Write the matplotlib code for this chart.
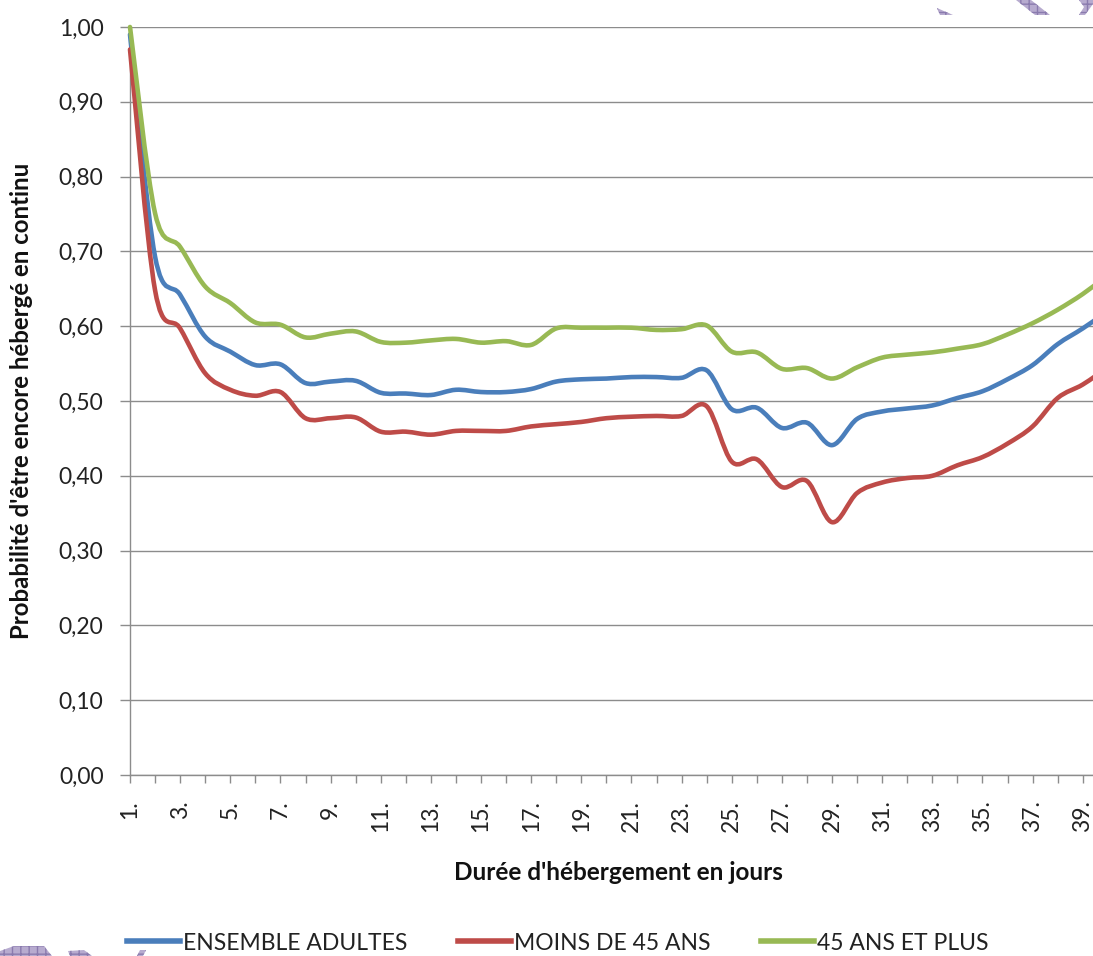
import matplotlib
matplotlib.use("Agg")
import matplotlib.pyplot as plt
from matplotlib.path import Path
from matplotlib.patches import PathPatch, Polygon
from matplotlib.lines import Line2D
import numpy as np

plt.rcParams['font.family'] = ['Lato', 'DejaVu Sans']

days = list(range(1, 41))
tick_labels = [f"{d}." if d % 2 == 1 else "" for d in days]

ensemble = [0.99, 0.693, 0.642, 0.586, 0.566, 0.548, 0.549, 0.524, 0.526, 0.527,
            0.511, 0.510, 0.508, 0.515, 0.512, 0.512, 0.516, 0.526, 0.529, 0.530,
            0.532, 0.532, 0.531, 0.541, 0.489, 0.491, 0.464, 0.471, 0.441, 0.476,
            0.486, 0.490, 0.494, 0.504, 0.513, 0.529, 0.548, 0.576, 0.597, 0.620]
moins45 = [0.97, 0.648, 0.597, 0.537, 0.515, 0.507, 0.512, 0.477, 0.477, 0.478,
           0.459, 0.459, 0.455, 0.460, 0.460, 0.460, 0.466, 0.469, 0.472, 0.477,
           0.479, 0.480, 0.480, 0.493, 0.419, 0.422, 0.385, 0.393, 0.338, 0.377,
           0.391, 0.397, 0.400, 0.414, 0.425, 0.443, 0.466, 0.504, 0.522, 0.545]
plus45 = [1.0, 0.751, 0.706, 0.653, 0.631, 0.605, 0.602, 0.585, 0.590, 0.593,
          0.579, 0.578, 0.581, 0.583, 0.578, 0.580, 0.575, 0.597, 0.598, 0.598,
          0.598, 0.595, 0.596, 0.601, 0.566, 0.565, 0.543, 0.544, 0.530, 0.545,
          0.558, 0.562, 0.565, 0.570, 0.576, 0.589, 0.604, 0.622, 0.643, 0.668]

series_names = ["ENSEMBLE ADULTES", "MOINS DE 45 ANS", "45 ANS ET PLUS"]
colors = ["#4A7EBB", "#BE4B48", "#98B954"]

W, H = 1093, 956
fig = plt.figure(figsize=(W / 100, H / 100), dpi=100)
left, right, top, bottom = 130, 1093, 27, 775
ax = fig.add_axes([left / W, 1 - bottom / H, (right - left) / W, (bottom - top) / H])


def smooth_path(xs, ys):
    pts = np.column_stack([xs, ys]).astype(float)
    n = len(pts)
    verts = [pts[0]]
    codes = [Path.MOVETO]
    for i in range(n - 1):
        p0 = pts[i - 1] if i > 0 else pts[i]
        p1 = pts[i]
        p2 = pts[i + 1]
        p3 = pts[i + 2] if i + 2 < n else pts[i + 1]
        c1 = p1 + (p2 - p0) / 6.0
        c2 = p2 - (p3 - p1) / 6.0
        verts += [c1, c2, p2]
        codes += [Path.CURVE4] * 3
    return Path(verts, codes)


for vals, c in zip([ensemble, moins45, plus45], colors):
    patch = PathPatch(smooth_path(days, vals), facecolor='none', edgecolor=c,
                      lw=3.3, capstyle='round', joinstyle='round', clip_on=False, zorder=3)
    ax.add_patch(patch)

grid_c = "#8C8C8C"
yt = np.arange(0, 1.01, 0.1)
ax.set_yticks(yt)
ax.set_yticklabels([f"{v:.2f}".replace(".", ",") for v in yt])
ax.yaxis.grid(True, color=grid_c, lw=1.0)
ax.set_axisbelow(True)
ax.set_xticks(days)
ax.set_xticklabels(tick_labels, rotation=90)
ax.set_xlim(1, 39.41)
ax.set_ylim(0, 1.0)
ax.tick_params(axis='x', direction='out', length=6, width=1, color=grid_c, pad=12,
               labelsize=16.5, labelcolor="#222222")
ax.tick_params(axis='y', direction='out', length=7, width=1, color=grid_c, pad=12,
               labelsize=16.5, labelcolor="#222222")
for s in ['top', 'right']:
    ax.spines[s].set_visible(False)
for s in ['left', 'bottom']:
    ax.spines[s].set_color(grid_c)
    ax.spines[s].set_linewidth(1.0)

fig.text(22 / W, 1 - 401 / H, "Probabilité d'être encore hébergé en continu", rotation=90,
         ha='center', va='center', fontsize=17.3, fontweight='bold', color="#111111")
fig.text(618 / W, 1 - 873 / H, "Durée d'hébergement en jours", ha='center', va='center',
         fontsize=17.5, fontweight='bold', color="#111111")

handles = [Line2D([], [], color=c, lw=4) for c in colors]
fig.legend(handles, series_names, loc='center', bbox_to_anchor=(558 / W, 1 - 943 / H),
           ncol=3, frameon=False, handlelength=2.3, handletextpad=0.15,
           columnspacing=2.2, fontsize=16.5, labelcolor="#222222",
           borderpad=0, borderaxespad=0)

# decorative watermark shapes at corners
deco = [
    [(937, 8), (953, 15), (940, 15)],
    [(1016, 0), (1031, 0), (1050, 15), (1035, 15)],
    [(1079, 0), (1093, 0), (1093, 4), (1085, 15), (1079, 15), (1084, 7)],
    [(0, 951), (14, 946), (44, 946), (52, 956), (0, 956)],
    [(68, 951), (84, 950), (92, 956), (70, 956)],
    [(140, 950), (146, 950), (143, 956), (137, 956)],
]
for poly in deco:
    pts = [(x / W, 1 - y / H) for x, y in poly]
    fig.patches.append(Polygon(pts, closed=True, transform=fig.transFigure,
                               facecolor="#B7ABCF", edgecolor="#8A7BAE", hatch='++',
                               lw=0, figure=fig))

fig.savefig("out.png", dpi=100)
